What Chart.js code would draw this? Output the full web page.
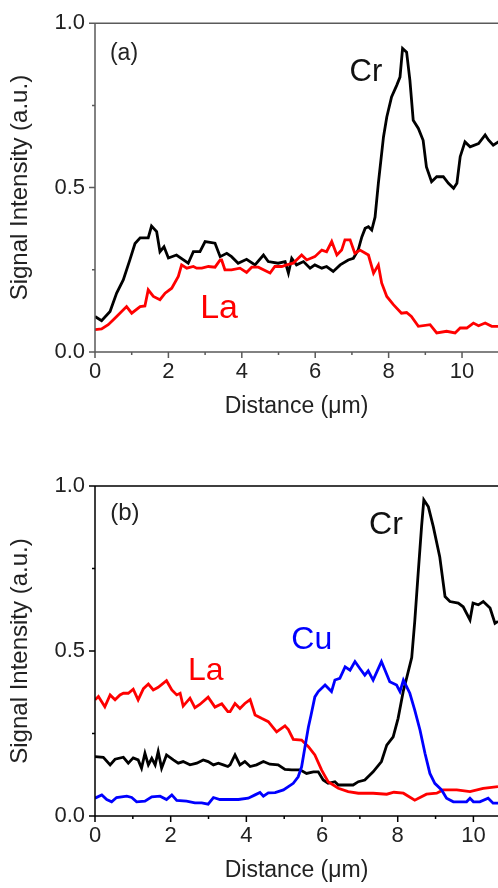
<!DOCTYPE html>
<html>
<head>
<meta charset="utf-8">
<script src="https://cdn.jsdelivr.net/npm/chart.js@4.4.1/dist/chart.umd.min.js"></script>
<style>
  html, body { margin: 0; padding: 0; background: #fff; }
  canvas { display: block; }
</style>
</head>
<body>
<canvas id="chartA" width="498" height="444"></canvas>
<canvas id="chartB" width="498" height="444"></canvas>
<script>
// ---- panel (a): line scan, Cr and La ----
const aCrX = [0, 0.18, 0.41, 0.59, 0.77, 0.95, 1.09, 1.23, 1.45, 1.54, 1.68, 1.77, 1.88, 2.0, 2.22, 2.54, 2.68, 2.86, 3.0, 3.27, 3.41, 3.59, 3.72, 3.9, 4.13, 4.36, 4.59, 4.72, 4.99, 5.18, 5.27, 5.36, 5.49, 5.68, 5.86, 5.99, 6.18, 6.31, 6.49, 6.68, 6.9, 7.04, 7.17, 7.27, 7.36, 7.45, 7.54, 7.63, 7.72, 7.86, 7.95, 8.08, 8.22, 8.31, 8.38, 8.49, 8.58, 8.67, 8.81, 8.94, 9.03, 9.17, 9.31, 9.49, 9.63, 9.77, 9.86, 9.95, 10.08, 10.22, 10.45, 10.63, 10.72, 10.85, 11.0];
const aCrY = [0.108, 0.095, 0.123, 0.179, 0.219, 0.28, 0.33, 0.347, 0.347, 0.383, 0.366, 0.305, 0.32, 0.286, 0.295, 0.27, 0.305, 0.305, 0.336, 0.331, 0.29, 0.3, 0.29, 0.27, 0.282, 0.265, 0.295, 0.275, 0.27, 0.275, 0.24, 0.285, 0.265, 0.275, 0.255, 0.265, 0.255, 0.26, 0.245, 0.265, 0.28, 0.285, 0.31, 0.35, 0.376, 0.381, 0.371, 0.41, 0.513, 0.654, 0.715, 0.776, 0.811, 0.836, 0.923, 0.912, 0.826, 0.705, 0.68, 0.644, 0.563, 0.518, 0.533, 0.533, 0.513, 0.498, 0.513, 0.594, 0.639, 0.624, 0.634, 0.66, 0.645, 0.629, 0.64];
const aLaX = [0, 0.18, 0.36, 0.5, 0.59, 0.86, 1.0, 1.23, 1.36, 1.45, 1.59, 1.77, 1.91, 2.09, 2.27, 2.36, 2.5, 2.68, 2.77, 2.91, 3.09, 3.27, 3.41, 3.45, 3.54, 3.72, 3.95, 4.13, 4.27, 4.45, 4.59, 4.77, 4.9, 5.09, 5.22, 5.4, 5.63, 5.77, 5.99, 6.18, 6.31, 6.45, 6.59, 6.72, 6.81, 6.95, 7.08, 7.22, 7.45, 7.59, 7.72, 7.81, 7.95, 8.13, 8.35, 8.49, 8.62, 8.81, 9.13, 9.31, 9.58, 9.81, 9.95, 10.13, 10.31, 10.45, 10.63, 10.81, 11.0];
const aLaY = [0.068, 0.07, 0.083, 0.098, 0.108, 0.138, 0.118, 0.138, 0.14, 0.189, 0.169, 0.159, 0.179, 0.194, 0.23, 0.265, 0.255, 0.26, 0.255, 0.255, 0.26, 0.258, 0.28, 0.28, 0.25, 0.25, 0.255, 0.242, 0.258, 0.258, 0.25, 0.24, 0.26, 0.26, 0.265, 0.27, 0.295, 0.28, 0.29, 0.31, 0.305, 0.336, 0.295, 0.31, 0.341, 0.341, 0.3, 0.31, 0.295, 0.24, 0.265, 0.21, 0.169, 0.144, 0.118, 0.12, 0.108, 0.078, 0.083, 0.058, 0.063, 0.058, 0.073, 0.073, 0.088, 0.08, 0.088, 0.078, 0.078];

// ---- panel (b): line scan, Cr, La and Cu ----
const bCrX = [0, 0.22, 0.4, 0.53, 0.75, 0.88, 1.01, 1.14, 1.23, 1.32, 1.41, 1.5, 1.59, 1.67, 1.76, 1.89, 2.07, 2.2, 2.33, 2.51, 2.69, 2.86, 2.99, 3.13, 3.26, 3.39, 3.51, 3.57, 3.7, 3.83, 3.96, 4.1, 4.27, 4.45, 4.62, 4.84, 5.02, 5.2, 5.42, 5.59, 5.77, 5.9, 6.03, 6.16, 6.34, 6.43, 6.61, 6.82, 6.96, 7.13, 7.35, 7.57, 7.71, 7.88, 8.01, 8.15, 8.24, 8.37, 8.45, 8.54, 8.63, 8.69, 8.81, 8.94, 9.11, 9.25, 9.38, 9.6, 9.73, 9.91, 9.99, 10.13, 10.26, 10.44, 10.57, 10.65];
const bCrY = [0.18, 0.178, 0.155, 0.172, 0.178, 0.16, 0.176, 0.17, 0.145, 0.19, 0.155, 0.175, 0.155, 0.195, 0.145, 0.185, 0.17, 0.16, 0.165, 0.155, 0.16, 0.17, 0.165, 0.155, 0.16, 0.155, 0.15, 0.155, 0.185, 0.155, 0.165, 0.15, 0.155, 0.165, 0.157, 0.155, 0.141, 0.14, 0.14, 0.129, 0.134, 0.134, 0.109, 0.099, 0.104, 0.094, 0.094, 0.094, 0.104, 0.109, 0.134, 0.165, 0.215, 0.24, 0.296, 0.38, 0.42, 0.48, 0.59, 0.735, 0.877, 0.958, 0.937, 0.877, 0.786, 0.665, 0.65, 0.645, 0.634, 0.594, 0.645, 0.64, 0.65, 0.63, 0.584, 0.59];
const bLaX = [0, 0.09, 0.26, 0.4, 0.53, 0.66, 0.75, 0.88, 1.01, 1.14, 1.28, 1.41, 1.54, 1.67, 1.89, 2.03, 2.16, 2.25, 2.33, 2.51, 2.64, 2.77, 2.99, 3.17, 3.35, 3.51, 3.57, 3.7, 3.83, 3.96, 4.1, 4.23, 4.4, 4.58, 4.8, 5.02, 5.11, 5.24, 5.46, 5.64, 5.81, 5.99, 6.16, 6.43, 6.69, 6.96, 7.35, 7.71, 7.9, 8.15, 8.45, 8.76, 9.03, 9.2, 9.56, 9.91, 10.26, 10.65];
const bLaY = [0.352, 0.362, 0.331, 0.367, 0.352, 0.367, 0.372, 0.372, 0.384, 0.352, 0.386, 0.4, 0.382, 0.39, 0.41, 0.382, 0.367, 0.372, 0.333, 0.357, 0.328, 0.338, 0.36, 0.33, 0.34, 0.316, 0.316, 0.341, 0.326, 0.341, 0.353, 0.306, 0.296, 0.286, 0.255, 0.273, 0.262, 0.232, 0.23, 0.21, 0.185, 0.139, 0.104, 0.084, 0.074, 0.069, 0.069, 0.066, 0.072, 0.069, 0.048, 0.066, 0.069, 0.079, 0.079, 0.074, 0.084, 0.089];
const bCuX = [0, 0.18, 0.31, 0.44, 0.57, 0.84, 0.97, 1.1, 1.32, 1.5, 1.72, 1.89, 2.03, 2.16, 2.42, 2.64, 2.82, 2.99, 3.13, 3.3, 3.51, 3.79, 4.05, 4.23, 4.36, 4.45, 4.58, 4.76, 4.98, 5.11, 5.24, 5.37, 5.46, 5.55, 5.64, 5.71, 5.81, 5.9, 6.08, 6.25, 6.34, 6.47, 6.61, 6.74, 6.87, 7.0, 7.13, 7.22, 7.35, 7.57, 7.79, 7.97, 8.06, 8.15, 8.32, 8.45, 8.59, 8.72, 8.85, 8.98, 9.16, 9.29, 9.47, 9.82, 9.91, 10.0, 10.17, 10.39, 10.52, 10.65];
const bCuY = [0.054, 0.064, 0.05, 0.043, 0.056, 0.06, 0.056, 0.043, 0.045, 0.058, 0.06, 0.05, 0.064, 0.047, 0.045, 0.04, 0.04, 0.036, 0.056, 0.05, 0.05, 0.05, 0.054, 0.064, 0.071, 0.06, 0.07, 0.071, 0.079, 0.089, 0.099, 0.119, 0.149, 0.21, 0.27, 0.306, 0.361, 0.377, 0.397, 0.377, 0.412, 0.417, 0.452, 0.442, 0.468, 0.447, 0.427, 0.44, 0.412, 0.468, 0.407, 0.397, 0.377, 0.412, 0.372, 0.321, 0.26, 0.19, 0.129, 0.099, 0.079, 0.054, 0.043, 0.043, 0.054, 0.043, 0.043, 0.054, 0.039, 0.039];

const FONT = "'Liberation Sans', Arial, sans-serif";

function pts(xs, ys) {
  return xs.map((x, i) => ({ x: x, y: ys[i] }));
}

function line(label, xs, ys, color, order) {
  return {
    label: label,
    data: pts(xs, ys),
    borderColor: color,
    borderWidth: 2.8,
    pointRadius: 0,
    tension: 0,
    order: order
  };
}

// spines + major/minor tick marks drawn by hand
const framePlugin = {
  id: 'frame',
  afterDraw(chart, args, opts) {
    const { ctx, chartArea: a, scales } = chart;
    ctx.save();
    ctx.strokeStyle = opts.color;
    ctx.lineWidth = 1.5;
    ctx.beginPath();
    ctx.moveTo(a.left, a.top);
    ctx.lineTo(chart.width, a.top);
    ctx.moveTo(a.left, a.top);
    ctx.lineTo(a.left, a.bottom);
    ctx.lineTo(chart.width, a.bottom);
    scales.x.ticks.forEach(t => {
      const px = scales.x.getPixelForValue(t.value);
      const len = t.value % 2 === 0 ? 6 : 3;
      ctx.moveTo(px, a.bottom);
      ctx.lineTo(px, a.bottom + len);
    });
    scales.y.ticks.forEach(t => {
      const py = scales.y.getPixelForValue(t.value);
      const len = Math.abs(t.value * 2 - Math.round(t.value * 2)) < 1e-6 ? 6 : 3;
      ctx.moveTo(a.left, py);
      ctx.lineTo(a.left - len, py);
    });
    ctx.stroke();
    ctx.restore();
  }
};

// element names and panel letter
const notesPlugin = {
  id: 'notes',
  afterDatasetsDraw(chart, args, opts) {
    const { ctx, scales } = chart;
    ctx.save();
    ctx.textAlign = 'center';
    ctx.textBaseline = 'middle';
    opts.items.forEach(n => {
      ctx.font = n.size + 'px ' + FONT;
      ctx.fillStyle = n.color;
      ctx.fillText(n.text, scales.x.getPixelForValue(n.x), scales.y.getPixelForValue(n.y));
    });
    ctx.restore();
  }
};

function makePanel(id, datasets, xMax, axisColor, xAxisHeight, padTop, titlePadBottom, notes) {
  return new Chart(document.getElementById(id), {
    type: 'line',
    data: { datasets: datasets },
    plugins: [framePlugin, notesPlugin],
    options: {
      responsive: false,
      animation: false,
      layout: { padding: { top: padTop, left: 0, right: 0, bottom: 0 } },
      plugins: {
        legend: { display: false },
        tooltip: { enabled: false },
        frame: { color: axisColor },
        notes: { items: notes }
      },
      scales: {
        x: {
          type: 'linear',
          min: 0,
          max: xMax,
          afterFit: s => { s.height = xAxisHeight; },
          border: { display: false },
          grid: { display: false, drawTicks: false },
          ticks: {
            stepSize: 1,
            includeBounds: false,
            autoSkip: false,
            maxRotation: 0,
            padding: 7,
            color: '#222',
            font: { family: FONT, size: 22 },
            callback: v => (v % 2 === 0 ? String(v) : '')
          },
          title: {
            display: true,
            text: 'Distance (\u03bcm)',
            color: '#222',
            font: { family: FONT, size: 23 },
            padding: { top: 0, bottom: titlePadBottom }
          }
        },
        y: {
          min: 0,
          max: 1,
          afterFit: s => { s.width = 95; },
          border: { display: false },
          grid: { display: false, drawTicks: false },
          ticks: {
            stepSize: 0.25,
            autoSkip: false,
            padding: 10,
            color: '#222',
            font: { family: FONT, size: 22 },
            callback: v => (Math.abs(v * 2 - Math.round(v * 2)) < 1e-6 ? v.toFixed(1) : '')
          },
          title: {
            display: true,
            text: 'Signal Intensity (a.u.)',
            color: '#222',
            font: { family: FONT, size: 24 },
            padding: { top: 6, bottom: 0 }
          }
        }
      }
    }
  });
}

makePanel('chartA', [
  line('La', aLaX, aLaY, '#ff0000', 1),
  line('Cr', aCrX, aCrY, '#000000', 2)
], 10.98, '#5a5a5a', 92, 23, 24, [
  { text: '(a)', x: 0.79, y: 0.908, size: 23, color: '#222' },
  { text: 'Cr', x: 7.38, y: 0.851, size: 31, color: '#111' },
  { text: 'La', x: 3.38, y: 0.131, size: 34, color: '#ff0000' }
]);

makePanel('chartB', [
  line('Cu', bCuX, bCuY, '#0000ff', 1),
  line('La', bLaX, bLaY, '#ff0000', 2),
  line('Cr', bCrX, bCrY, '#000000', 3)
], 10.65, '#000000', 72, 42, 4, [
  { text: '(b)', x: 0.79, y: 0.918, size: 24, color: '#222' },
  { text: 'Cr', x: 7.69, y: 0.882, size: 32, color: '#111' },
  { text: 'La', x: 2.93, y: 0.439, size: 32, color: '#ff0000' },
  { text: 'Cu', x: 5.73, y: 0.533, size: 32, color: '#0000ff' }
]);
</script>
</body>
</html>
